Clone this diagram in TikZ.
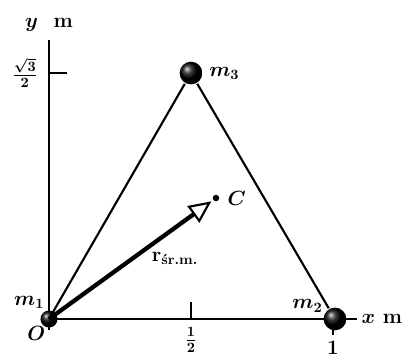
\documentclass[tikz,border=0pt]{standalone}
\usepackage{amsmath}
\usetikzlibrary{arrows.meta}
\usetikzlibrary{positioning}

\begin{document}
\begin{tikzpicture}[line width=1.5pt, x=7cm, y=7cm]
    \tikzset{
        every node/.style={font=\Large\bfseries\boldmath},
        mass/.style={circle, ball color=black, inner sep=0pt, minimum size=#1}
    }
    \useasboundingbox (-0.1725,-0.1303) rectangle (1.2570,1.1232);

    % draw axis
    \coordinate (O) at (0,0);
    \coordinate (xend) at (1.085,0);
    \coordinate (yend) at (0,0.982);
    \draw (O) -- (xend) node [right=-1pt] (xlab) {$x$~m};
    \draw (O) -- (yend) node [above=2pt] (ylab) {$y$\ \ m};

    % draw ticks
    \draw (0,0.866) -- (0.063,0.866);
    \node [left=4pt] (ytick) at (0,0.866) {$\tfrac{\sqrt{3}}{2}$};
    \draw (0,0) -- (0,-0.04);
    \draw (0.5,0) -- (0.5,0.06);
    \node (half) at (0.5,-0.074) {$\tfrac{1}{2}$};
    \draw (1,0) -- (1,-0.055);
    \node (one) at (1,-0.1) {$1$};

    % draw masses
    \node [mass=0.42cm] (m1) at (0,0) {};
    \node [mass=0.56cm] (m2) at (1.007,0) {};
    \node [mass=0.56cm] (m3) at (0.5,0.866) {};
    \node (m1lab) at (-0.07,0.058) {$m_1$};
    \node (olab) at (-0.045,-0.05) {$O$};
    \node (m2lab) at (0.91,0.046) {$m_2$};
    \node [right=0pt of m3] (m3lab) {$m_3$};

    % draw triangle
    \draw (m1.center) -- (m3);
    \draw (m3) -- (m2);

    % draw centre of mass
    \node [circle, fill=black, inner sep=1.6pt] (C) at (0.588,0.426) {};
    \node [right=1pt of C] (Clab) {$C$};
    \draw [line width=3pt, -{Triangle[open, length=0.55cm, width=0.5cm, line width=1.5pt]}, shorten >=1pt]
        (m1.center) -- (C) node[pos=0.6, below right=-2pt] (rlab) {$\mathbf{r}_{\textbf{śr.m.}}$};
\end{tikzpicture}
\end{document}
